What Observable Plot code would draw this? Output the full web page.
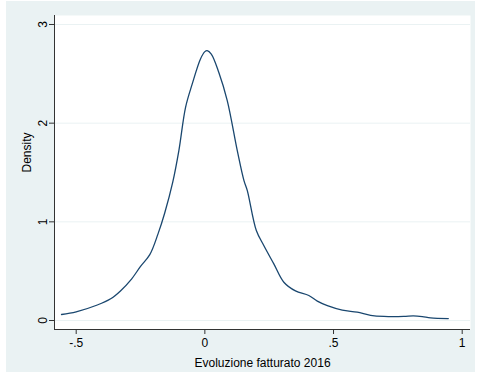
<!DOCTYPE html>
<html>
<head>
<meta charset="utf-8">
<script src="https://cdn.jsdelivr.net/npm/d3@7"></script>
<script src="https://cdn.jsdelivr.net/npm/@observablehq/plot@0.6"></script>
<style>
  html, body { margin: 0; padding: 0; background: #ffffff; }
  #chart svg { display: block; }
</style>
</head>
<body>
<div id="chart"></div>
<script>
// Kernel density estimate of "Evoluzione fatturato 2016"
const growth = [-0.557, -0.5, -0.418, -0.366, -0.328, -0.285, -0.25, -0.214, -0.182, -0.156, -0.125, -0.101, -0.075, -0.049, -0.017, 0.0, 0.009, 0.025, 0.054, 0.087, 0.126, 0.152, 0.165, 0.2, 0.229, 0.268, 0.307, 0.352, 0.404, 0.437, 0.476, 0.534, 0.592, 0.644, 0.696, 0.773, 0.81, 0.845, 0.877, 0.946];
const density = [0.061, 0.088, 0.157, 0.22, 0.3, 0.42, 0.548, 0.667, 0.878, 1.09, 1.40, 1.722, 2.161, 2.398, 2.651, 2.725, 2.735, 2.70, 2.516, 2.229, 1.722, 1.418, 1.317, 0.912, 0.76, 0.574, 0.388, 0.3, 0.253, 0.196, 0.15, 0.105, 0.084, 0.053, 0.041, 0.041, 0.047, 0.04, 0.027, 0.02];
const xTicks = [-0.5, 0, 0.5, 1];
const yTicks = [0, 1, 2, 3];
const xTitle = "Evoluzione fatturato 2016";
const yTitle = "Density";

const rows = growth.map((g, i) => ({x: g, y: density[i]}));
const fmt = v => String(v).replace(/^(-?)0\./, "$1.");
const xDomain = [-0.5843, 1.0323];
const yDomain = [-0.0912, 3.0912];
const axisColor = "#333333";

const chart = Plot.plot({
  width: 479,
  height: 372,
  marginLeft: 54,
  marginRight: 9,
  marginTop: 15,
  marginBottom: 43,
  style: {
    fontFamily: "'Liberation Sans', Arial, sans-serif",
    fontSize: "12px",
    color: "#000",
    background: "linear-gradient(#eaf2f3,#eaf2f3) no-repeat 6px 1px / 469px 371px, #ffffff",
    overflow: "visible"
  },
  x: {domain: xDomain},
  y: {domain: yDomain},
  marks: [
    Plot.frame({fill: "#ffffff", stroke: null}),
    Plot.ruleY(yTicks, {stroke: "#eaf2f3", strokeWidth: 1}),
    Plot.ruleX([xDomain[0]], {stroke: axisColor, strokeWidth: 1}),
    Plot.ruleY([yDomain[0]], {stroke: axisColor, strokeWidth: 1}),
    Plot.axisX({ticks: xTicks, tickFormat: fmt, tickSize: 5, tickPadding: 4, stroke: axisColor, fill: "#000", fontSize: 12, label: null}),
    Plot.axisY({ticks: yTicks, tickFormat: fmt, tickSize: 5, tickPadding: 3, tickRotate: -90, stroke: axisColor, fill: "#000", fontSize: 12, label: null}),
    Plot.line(rows, {x: "x", y: "y", stroke: "#1a476f", strokeWidth: 1.3, curve: "catmull-rom"}),
    Plot.text([xTitle], {frameAnchor: "bottom", dy: 34, text: d => d, fontSize: 12, fill: "#000", lineAnchor: "middle"}),
    Plot.text([yTitle], {frameAnchor: "left", dx: -27, rotate: -90, text: d => d, fontSize: 12, fill: "#000", lineAnchor: "middle"})
  ]
});
document.getElementById("chart").appendChild(chart);
</script>
</body>
</html>
